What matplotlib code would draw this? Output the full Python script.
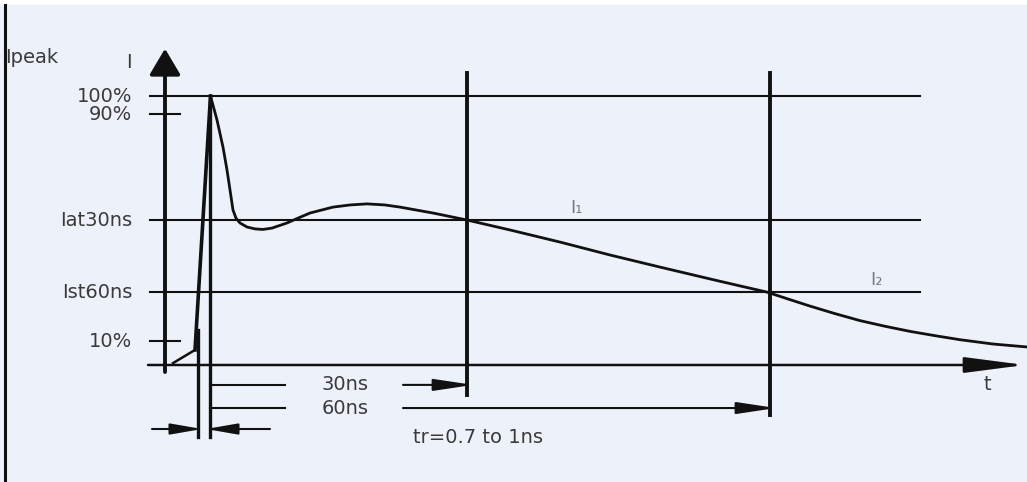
import matplotlib
matplotlib.use("Agg")
from matplotlib import pyplot as plt

# diagram units: x runs along the drawing (t), y is current in % of Ipeak
level_names = ["100%", "90%", "Iat30ns", "Ist60ns", "10%"]
level_values = [100.0, 93.3, 53.9, 27.1, 8.9]
level_full = [True, False, True, True, False]   # full line or short tick

t_markers = [467, 770]            # 30ns and 60ns verticals
t_marker_bottom = [-11.2, -18.6]
tr_edges = [198, 210]             # rise time markers
tr_tops = [13.0, 100.0]

dim_names = ["30ns", "60ns"]
dim_rows = [-7.4, -16.0]
tr_row = -23.8

curve_t = [173, 195, 210.5, 217, 223, 227, 230, 233, 236, 240, 247, 255, 263,
           272, 287, 298, 310, 333, 350, 367, 385, 400, 433, 467, 510, 560,
           610, 660, 710, 740, 767, 790, 810, 835, 860, 885, 910, 935, 960,
           993, 1027]
curve_i = [0.7, 5.6, 100.0, 91.1, 81.0, 72.5, 65.1, 57.6, 54.6, 52.8, 51.3,
           50.6, 50.4, 50.9, 52.8, 54.6, 56.5, 58.7, 59.5, 59.9, 59.5, 58.7,
           56.5, 53.9, 50.2, 45.7, 40.9, 36.4, 32.0, 29.4, 27.1, 24.3, 21.9,
           19.1, 16.5, 14.4, 12.5, 10.9, 9.4, 7.8, 6.7]

INK = "#111111"
TXT = "#3a3a3a"

fig = plt.figure(figsize=(10.27, 4.82), dpi=100, facecolor="white")
ax = fig.add_axes([0, 0, 1, 1])
ax.set_xlim(0, 1027)
ax.set_ylim(-43.5, 135.7)
ax.axis("off")

# light blue page with a white strip on top and a black left edge
ax.add_patch(plt.Rectangle((0, -43.5), 1027, 177.3, color="#edf1fa", zorder=-1))
ax.plot([4.5, 4.5], [-43.5, 133.8], color=INK, lw=2.2)


def arrow(tip, tail, hl, hw, lw):
    ax.annotate("", xy=tip, xytext=tail,
                arrowprops=dict(arrowstyle=f"-|>,head_length={hl},head_width={hw}",
                                mutation_scale=1, lw=lw, color=INK,
                                shrinkA=0, shrinkB=0))


# level lines and labels
for name, v, full in zip(level_names, level_values, level_full):
    x1 = 920 if full else 180
    ax.plot([150, x1], [v, v], color=INK, lw=1.5)
    ax.text(132, v, name, ha="right", va="center", fontsize=14, color=TXT)

# axes with arrows
arrow((165, 117.6), (165, -2.6), 16, 9.5, 2.8)
arrow((1025, 0), (148, 0), 37, 4.8, 1.8)

# 30ns / 60ns vertical lines
for x, yb in zip(t_markers, t_marker_bottom):
    ax.plot([x, x], [yb, 108.6], color=INK, lw=2.8)

# rise-time marker lines
for x, yt in zip(tr_edges, tr_tops):
    ax.plot([x, x], [-26.8, yt], color=INK, lw=2.4)

# waveform
ax.plot(curve_t[:2], curve_i[:2], color=INK, lw=1.8)
ax.plot(curve_t[1:3], curve_i[1:3], color=INK, lw=2.6)
ax.plot(curve_t[2:], curve_i[2:], color=INK, lw=2.0, solid_joinstyle="round")

# dimension lines
for name, row, x_end in zip(dim_names, dim_rows, t_markers):
    ax.plot([210, 285], [row, row], color=INK, lw=1.5)
    arrow((x_end + 6, row), (403, row), 24, 3.6, 1.5)
    ax.text(345, row, name, ha="center", va="center", fontsize=14, color=TXT)

arrow((tr_edges[0] + 4, tr_row), (152, tr_row), 19, 3.3, 1.5)
arrow((tr_edges[1] - 4, tr_row), (270, tr_row), 19, 3.3, 1.5)
ax.text(413, -26.8, "tr=0.7 to 1ns", ha="left", va="center",
        fontsize=14, color=TXT)

# other labels
ax.text(5, 114.5, "Ipeak", ha="left", va="center", fontsize=14, color=TXT)
ax.text(129, 112.6, "I", ha="center", va="center", fontsize=14, color=TXT)
ax.text(987, -7.1, "t", ha="center", va="center", fontsize=14, color=TXT)
ax.text(577, 58.4, "I\u2081", ha="center", va="center", fontsize=13, color="#7a7a7a")
ax.text(877, 31.6, "I\u2082", ha="center", va="center", fontsize=13, color="#7a7a7a")

fig.savefig("out.png", dpi=100, facecolor="white")
